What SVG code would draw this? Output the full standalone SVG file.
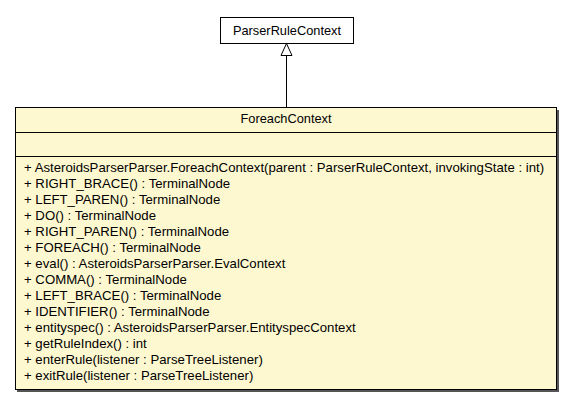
<svg xmlns="http://www.w3.org/2000/svg" width="573" height="400" viewBox="0 0 573 400">
<style>
text{font-family:"Liberation Sans",Arial,sans-serif;font-size:13.2px;fill:#000}
.c{text-anchor:middle;font-size:12.8px}
.box{stroke:#000;stroke-width:1}
</style>
<rect width="573" height="400" fill="#fff"/>
<g id="connectors">
<line x1="286.5" y1="107" x2="286.5" y2="55.5" stroke="#000" stroke-width="1"/>
<polygon points="286.5,43.5 281,55.5 292,55.5" fill="#fff" stroke="#000" stroke-width="1"/>
</g>
<g id="ParserRuleContext">
<rect x="220.5" y="17.5" width="133" height="26" fill="#fff" class="box"/>
<text class="c" x="287" y="35">ParserRuleContext</text>
</g>
<g id="ForeachContext">
<rect x="17" y="110" width="542" height="282" fill="#555"/>
<rect x="15.5" y="107.5" width="541" height="282" class="box" style="fill:#fef8d1"/>
<line x1="15.5" y1="132.5" x2="556.5" y2="132.5" stroke="#000"/>
<line x1="15.5" y1="156.5" x2="556.5" y2="156.5" stroke="#000"/>
<text class="c" x="286" y="123">ForeachContext</text>
<text x="24" y="172">+ AsteroidsParserParser.ForeachContext(parent : ParserRuleContext, invokingState : int)</text>
<text x="24" y="188">+ RIGHT_BRACE() : TerminalNode</text>
<text x="24" y="204">+ LEFT_PAREN() : TerminalNode</text>
<text x="24" y="220">+ DO() : TerminalNode</text>
<text x="24" y="236">+ RIGHT_PAREN() : TerminalNode</text>
<text x="24" y="252">+ FOREACH() : TerminalNode</text>
<text x="24" y="268">+ eval() : AsteroidsParserParser.EvalContext</text>
<text x="24" y="284">+ COMMA() : TerminalNode</text>
<text x="24" y="300">+ LEFT_BRACE() : TerminalNode</text>
<text x="24" y="316">+ IDENTIFIER() : TerminalNode</text>
<text x="24" y="332">+ entityspec() : AsteroidsParserParser.EntityspecContext</text>
<text x="24" y="348">+ getRuleIndex() : int</text>
<text x="24" y="364">+ enterRule(listener : ParseTreeListener)</text>
<text x="24" y="380">+ exitRule(listener : ParseTreeListener)</text>
</g>
</svg>
